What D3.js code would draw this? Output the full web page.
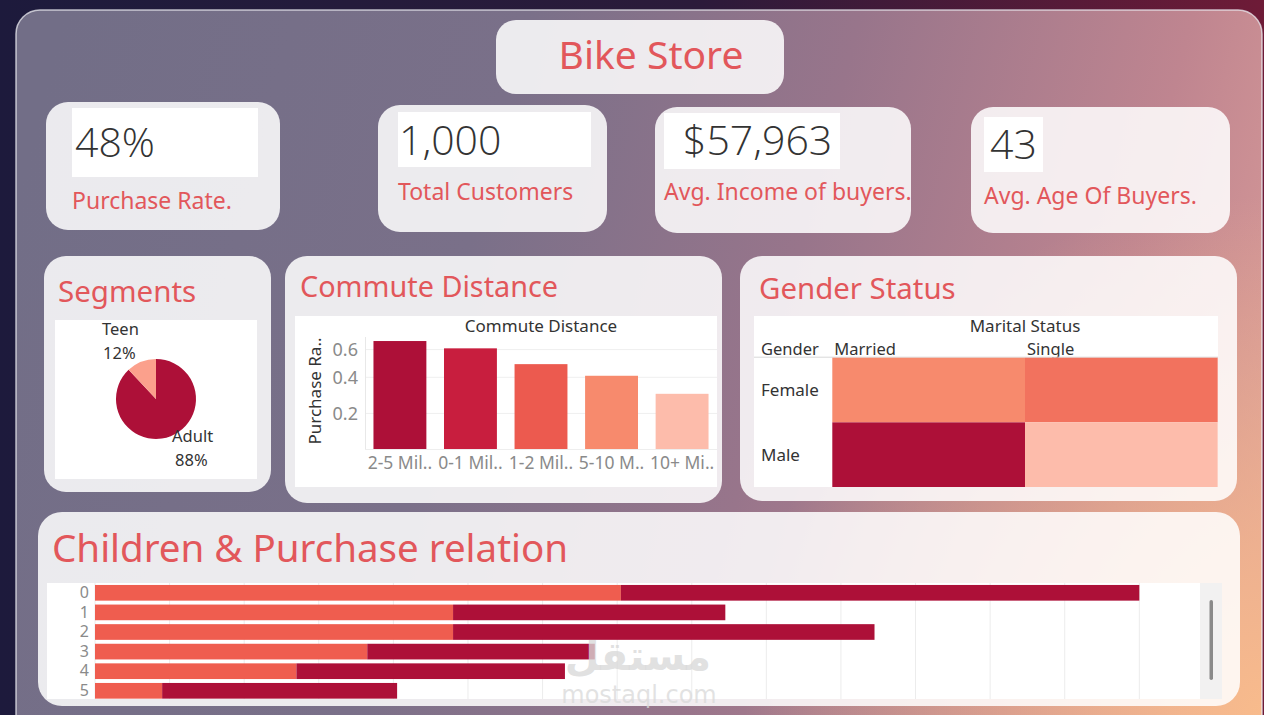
<!DOCTYPE html>
<html>
<head>
<meta charset="utf-8">
<script src="https://cdn.jsdelivr.net/npm/d3@7"></script>
<style>
  html, body { margin: 0; padding: 0; background: #1d1a3b; overflow: hidden; }
  svg { display: block; }
  text { font-family: "Noto Sans", "Open Sans", sans-serif; }
</style>
</head>
<body>
<script>
var width = 1264,
    height = 715;

// KPI tiles
const kpiValues = ["48%", "1,000", "$57,963", "43"];
const kpiLabels = ["Purchase Rate.", "Total Customers", "Avg. Income of buyers.", "Avg. Age Of Buyers."];

// Segments pie
const segmentNames = ["Adult", "Teen"];
const segmentShares = [0.88, 0.12];
const segmentLabels = ["88%", "12%"];

// Commute distance (purchase rate)
const commuteCats = ["2-5 Mil..", "0-1 Mil..", "1-2 Mil..", "5-10 M..", "10+ Mi.."];
const commuteRates = [0.67, 0.61, 0.49, 0.41, 0.30];
const commuteTicks = [0.2, 0.4, 0.6];

// Gender x marital status heatmap
const genders = ["Female", "Male"];
const maritalStatus = ["Married", "Single"];
const genderRates = [[0.41, 0.45], [0.67, 0.30]];

// Children & purchase
const childCounts = ["0", "1", "2", "3", "4", "5"];
const childLight = [141, 96, 96, 73, 54, 18];
const childDark = [139, 73, 113, 61, 72, 63];
const childGrid = d3.range(0, 300, 20);

var red = "#e2575b";
var palette = d3.scaleLinear()
    .domain([0.30, 0.41, 0.49, 0.61, 0.67])
    .range(["#fdbcab", "#f78a6d", "#ec5a4f", "#c81e3e", "#ad1038"])
    .clamp(true);

var svg = d3.select("body").append("svg")
    .attr("width", width)
    .attr("height", height);

var defs = svg.append("defs");

// fond extérieur
var outer = defs.append("linearGradient").attr("id", "outerBg")
    .attr("x1", 0).attr("y1", 0).attr("x2", 1).attr("y2", 0);
outer.append("stop").attr("offset", "0%").attr("stop-color", "#1d1a3c");
outer.append("stop").attr("offset", "55%").attr("stop-color", "#2b1a3a");
outer.append("stop").attr("offset", "100%").attr("stop-color", "#6e1b37");

// panneau principal
var panel = defs.append("linearGradient").attr("id", "panelBg")
    .attr("gradientUnits", "userSpaceOnUse")
    .attr("x1", 16).attr("y1", 200).attr("x2", 1262).attr("y2", 520);
panel.append("stop").attr("offset", "0%").attr("stop-color", "#726e87");
panel.append("stop").attr("offset", "35%").attr("stop-color", "#7a7089");
panel.append("stop").attr("offset", "60%").attr("stop-color", "#98758b");
panel.append("stop").attr("offset", "85%").attr("stop-color", "#bf8590");
panel.append("stop").attr("offset", "100%").attr("stop-color", "#d89a98");

var glow = defs.append("radialGradient").attr("id", "peach")
    .attr("gradientUnits", "userSpaceOnUse")
    .attr("cx", 1264).attr("cy", 715).attr("r", 520);
glow.append("stop").attr("offset", "0%").attr("stop-color", "#f8bb8c").attr("stop-opacity", 1);
glow.append("stop").attr("offset", "100%").attr("stop-color", "#f8bb8c").attr("stop-opacity", 0);

svg.append("rect").attr("width", width).attr("height", height).attr("fill", "url(#outerBg)");
svg.append("rect")
    .attr("x", 16).attr("y", 10).attr("width", 1246).attr("height", 730).attr("rx", 24)
    .attr("fill", "url(#panelBg)");
svg.append("rect")
    .attr("x", 16).attr("y", 10).attr("width", 1246).attr("height", 730).attr("rx", 24)
    .attr("fill", "url(#peach)")
    .attr("stroke", "rgba(235,235,240,0.75)").attr("stroke-width", 1.5);

function card(x, y, w, h, r) {
    svg.append("rect")
        .attr("x", x).attr("y", y).attr("width", w).attr("height", h).attr("rx", r || 22)
        .attr("fill", "#ffffff").attr("fill-opacity", 0.86);
}
function whiteBox(x, y, w, h) {
    svg.append("rect")
        .attr("x", x).attr("y", y).attr("width", w).attr("height", h)
        .attr("fill", "#ffffff");
}
function title(txt, x, y, size) {
    svg.append("text").attr("x", x).attr("y", y)
        .attr("fill", red).attr("font-size", size)
        .text(txt);
}

// --- Titre ---
card(496, 20, 288, 74, 20);
svg.append("text").attr("x", 651).attr("y", 69)
    .attr("text-anchor", "middle").attr("fill", red).attr("font-size", 39)
    .text("Bike Store");

// --- KPI ---
var kpiCards = [[46, 102, 234, 128], [378, 105, 229, 127], [655, 107, 256, 126], [971, 107, 259, 126]];
var kpiBoxes = [[72, 108, 186, 69], [398, 112, 193, 55], [664, 113, 176, 56], [984, 117, 59, 55]];
var kpiValPos = [[75, 157], [399, 155], [683, 155], [990, 159]];
var kpiLabPos = [[72, 209], [398, 200], [664, 200], [984, 204]];

kpiValues.forEach(function (v, i) {
    var c = kpiCards[i], b = kpiBoxes[i];
    card(c[0], c[1], c[2], c[3], 22);
    whiteBox(b[0], b[1], b[2], b[3]);
    svg.append("text").attr("x", kpiValPos[i][0]).attr("y", kpiValPos[i][1])
        .attr("fill", "#333333").attr("font-size", 41).attr("font-weight", 300)
        .style("font-family", "'Open Sans', 'Noto Sans', sans-serif")
        .text(v);
    svg.append("text").attr("x", kpiLabPos[i][0]).attr("y", kpiLabPos[i][1])
        .attr("fill", red).attr("font-size", 23)
        .text(kpiLabels[i]);
});

// --- Segments ---
card(44, 256, 227, 236, 22);
title("Segments", 58, 302, 29.5);
whiteBox(55, 320, 202, 159);

var pieCx = 156, pieCy = 399, pieR = 40;
var pie = d3.pie().sort(null)(segmentShares);
var arc = d3.arc().innerRadius(0).outerRadius(pieR);
var gPie = svg.append("g").attr("transform", "translate(" + pieCx + "," + pieCy + ")");
gPie.selectAll("path").data(pie).join("path")
    .attr("d", arc)
    .attr("fill", function (d, i) { return i === 0 ? "#ad1038" : "#fba08c"; });

// étiquettes du camembert
var labelOffsets = [[16, 43], [-54, -64]];
pie.forEach(function (d, i) {
    var t = gPie.append("text")
        .attr("x", labelOffsets[i][0]).attr("y", labelOffsets[i][1])
        .attr("fill", "#333333").attr("font-size", 16.5);
    t.append("tspan").attr("x", labelOffsets[i][0]).text(segmentNames[i]);
    t.append("tspan").attr("x", labelOffsets[i][0] + (i === 0 ? 3 : 1)).attr("dy", 24).text(segmentLabels[i]);
});

// --- Commute Distance ---
card(285, 256, 437, 247, 22);
title("Commute Distance", 300, 297, 28.8);
whiteBox(295, 316, 422, 171);

svg.append("text").attr("x", 541).attr("y", 332)
    .attr("text-anchor", "middle").attr("fill", "#333333").attr("font-size", 17)
    .text("Commute Distance");

var cx = d3.scaleBand().domain(commuteCats).range([365, 717]).paddingInner(0.25).paddingOuter(0.12);
var cy = d3.scaleSqrt().domain([0.07, 0.7]).range([449, 337.5]);

var gC = svg.append("g");
gC.selectAll("line.grid").data(commuteTicks).join("line")
    .attr("class", "grid")
    .attr("x1", 365).attr("x2", 717)
    .attr("y1", function (d) { return cy(d); }).attr("y2", function (d) { return cy(d); })
    .attr("stroke", "#efefef");
gC.append("line").attr("x1", 365.5).attr("x2", 365.5).attr("y1", 337).attr("y2", 449)
    .attr("stroke", "#e8e8e8");
gC.append("line").attr("x1", 365).attr("x2", 717).attr("y1", 449.5).attr("y2", 449.5)
    .attr("stroke", "#eeeeee");

gC.selectAll("rect.bar").data(commuteRates).join("rect")
    .attr("class", "bar")
    .attr("x", function (d, i) { return cx(commuteCats[i]); })
    .attr("width", cx.bandwidth())
    .attr("y", function (d) { return cy(d); })
    .attr("height", function (d) { return 449 - cy(d); })
    .attr("fill", function (d) { return palette(d); });

var yAx = svg.append("g").attr("transform", "translate(358,0)")
    .call(d3.axisLeft(cy).tickValues(commuteTicks).tickSize(0).tickPadding(0).tickFormat(d3.format(".1f")));
yAx.select(".domain").remove();
yAx.selectAll("text").attr("fill", "#8a8a8a").attr("font-size", 18)
    .style("font-family", "'Noto Sans', sans-serif");

var xAx = svg.append("g").attr("transform", "translate(0,457)")
    .call(d3.axisBottom(cx).tickSize(0).tickPadding(0));
xAx.select(".domain").remove();
xAx.selectAll("text").attr("fill", "#8a8a8a").attr("font-size", 17.5).attr("dy", "0.71em")
    .style("font-family", "'Noto Sans', sans-serif");

svg.append("text")
    .attr("transform", "translate(321,391) rotate(-90)")
    .attr("text-anchor", "middle").attr("fill", "#333333").attr("font-size", 17)
    .text("Purchase Ra..");

// --- Gender Status ---
card(740, 256, 497, 245, 22);
title("Gender Status", 759, 299, 29.4);
whiteBox(754, 316, 464, 171);

var gx = d3.scaleBand().domain(maritalStatus).range([832.3, 1217.7]);
var gy = d3.scaleBand().domain(genders).range([357.7, 487]);

svg.append("text").attr("x", 1025).attr("y", 332)
    .attr("text-anchor", "middle").attr("fill", "#333333").attr("font-size", 17)
    .text("Marital Status");
svg.append("text").attr("x", 761).attr("y", 355)
    .attr("fill", "#333333").attr("font-size", 16.5).text("Gender");
maritalStatus.forEach(function (m) {
    svg.append("text").attr("x", gx(m) + 2).attr("y", 355)
        .attr("fill", "#333333").attr("font-size", 16.5).text(m);
});
svg.append("line").attr("x1", 754).attr("x2", 1218).attr("y1", 357.2).attr("y2", 357.2)
    .attr("stroke", "#d8d8d8");

genders.forEach(function (g, r) {
    svg.append("text").attr("x", 761).attr("y", gy(g) + gy.bandwidth() / 2 + 6)
        .attr("fill", "#333333").attr("font-size", 17).text(g);
    maritalStatus.forEach(function (m, c) {
        svg.append("rect")
            .attr("x", gx(m)).attr("y", gy(g))
            .attr("width", gx.bandwidth()).attr("height", gy.bandwidth())
            .attr("fill", palette(genderRates[r][c]));
    });
});

// --- Children & Purchase relation ---
card(38, 512, 1202, 194, 24);
title("Children & Purchase relation", 52, 562, 38.5);
whiteBox(47, 583, 1153, 116);

var kx = d3.scaleLinear().domain([0, 296]).range([95, 1199]);
var ky = d3.scaleBand().domain(childCounts).range([583, 700.6]).paddingInner(0.2).paddingOuter(0.1);

svg.append("g").selectAll("line").data(childGrid).join("line")
    .attr("x1", function (d) { return kx(d); }).attr("x2", function (d) { return kx(d); })
    .attr("y1", 583).attr("y2", 699)
    .attr("stroke", "#ececec");

var gK = svg.append("g");
gK.selectAll("rect.light").data(childLight).join("rect")
    .attr("class", "light")
    .attr("x", kx(0))
    .attr("y", function (d, i) { return ky(childCounts[i]); })
    .attr("width", function (d) { return kx(d) - kx(0); })
    .attr("height", ky.bandwidth())
    .attr("fill", "#ef5d4f");
gK.selectAll("rect.dark").data(childDark).join("rect")
    .attr("class", "dark")
    .attr("x", function (d, i) { return kx(childLight[i]); })
    .attr("y", function (d, i) { return ky(childCounts[i]); })
    .attr("width", function (d, i) { return kx(childLight[i] + d) - kx(childLight[i]); })
    .attr("height", ky.bandwidth())
    .attr("fill", "#ad1038");

var kAx = svg.append("g").attr("transform", "translate(89,0)")
    .call(d3.axisLeft(ky).tickSize(0).tickPadding(0));
kAx.select(".domain").remove();
kAx.selectAll("text").attr("fill", "#8a8a8a").attr("font-size", 16)
    .style("font-family", "'Noto Sans', sans-serif");

// barre de défilement
svg.append("rect").attr("x", 1200).attr("y", 583).attr("width", 22).attr("height", 116)
    .attr("fill", "#f2f1f1");
svg.append("rect").attr("x", 1209.5).attr("y", 600).attr("width", 3.5).attr("height", 80).attr("rx", 1.75)
    .attr("fill", "#8a8a8a");

// filigrane
svg.append("text").attr("x", 638).attr("y", 670)
    .attr("text-anchor", "middle").attr("fill", "#d9d9d9").attr("fill-opacity", 0.8)
    .attr("font-size", 40).attr("font-weight", "bold")
    .style("font-family", "'DejaVu Sans', sans-serif")
    .text("مستقل");
svg.append("text").attr("x", 639).attr("y", 703)
    .attr("text-anchor", "middle").attr("fill", "#d9d9d9").attr("fill-opacity", 0.75)
    .attr("font-size", 24)
    .style("font-family", "'DejaVu Sans', sans-serif")
    .text("mostaql.com");
</script>
</body>
</html>
